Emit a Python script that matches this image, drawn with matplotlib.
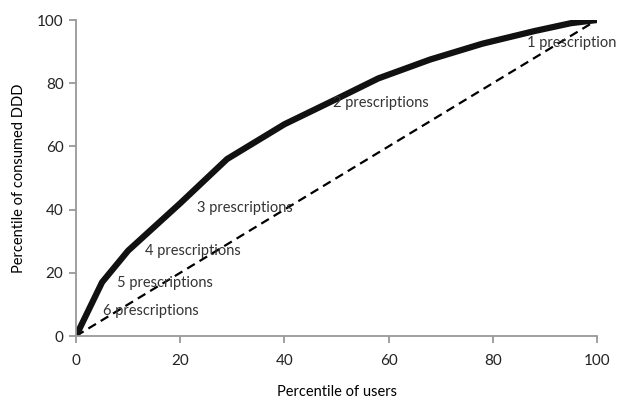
import matplotlib
matplotlib.use("Agg")
import matplotlib.pyplot as plt

# Lorenz curve of DDD consumption vs users
users = [0, 5, 10, 20, 29, 40, 50, 58, 68, 78, 88, 95, 100]
ddd = [0, 17, 27, 42, 56, 67, 75, 81.5, 87.5, 92.5, 96.5, 99, 100]
equal = [0, 100]

labels = ["1 prescription", "2 prescriptions", "3 prescriptions",
          "4 prescriptions", "5 prescriptions", "6 prescriptions"]
label_x = [86.6, 49.3, 23.2, 13.2, 7.9, 5.2]
label_y = [92.7, 73.7, 40.5, 26.9, 16.8, 7.9]

plt.rcParams['font.family'] = ['Lato', 'DejaVu Sans']
fig = plt.figure(figsize=(6.18, 4.0), dpi=100)
ax = fig.add_axes([0.123, 0.16, 0.843, 0.79])

ax.plot(equal, equal, color='black', lw=1.6, ls=(0, (4, 2.5)))
ax.plot(users, ddd, color='#111111', lw=4.5, solid_capstyle='butt', solid_joinstyle='round')

for t, x, y in zip(labels, label_x, label_y):
    ax.text(x, y, t, fontsize=10.5, color='#333333', va='center', ha='left', clip_on=False)

ax.set_xlim(0, 100)
ax.set_ylim(0, 100)
ax.set_xticks(range(0, 101, 20))
ax.set_yticks(range(0, 101, 20))
for s in ['top', 'right']:
    ax.spines[s].set_visible(False)
for s in ['left', 'bottom']:
    ax.spines[s].set_color('#999999')
    ax.spines[s].set_linewidth(1.3)
ax.tick_params(colors='#999999', labelcolor='#222222', labelsize=11, length=5, width=1.3)
ax.tick_params(axis='x', pad=8)
ax.tick_params(axis='y', pad=4)
ax.set_xlabel("Percentile of users", fontsize=10.5, labelpad=12)
ax.set_ylabel("Percentile of consumed DDD", fontsize=10.5, labelpad=8)

fig.savefig("out.png", dpi=100)
